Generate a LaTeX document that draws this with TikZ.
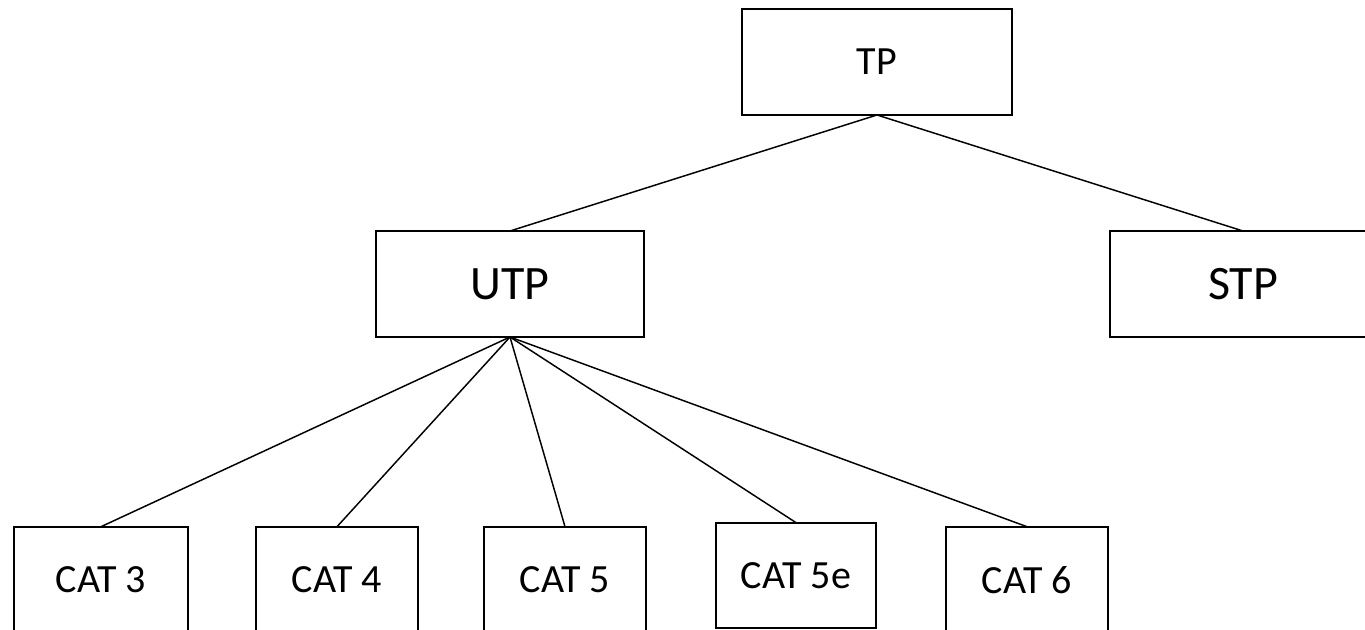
\documentclass[tikz,border=0pt]{standalone}
\usepackage{fontspec}
\setmainfont{Carlito}
\begin{document}
\begin{tikzpicture}[x=0.75pt,y=-0.75pt,
  box/.style={draw=black,line width=1.5pt,rectangle,inner sep=0pt,outer sep=0pt,
    minimum height=79.5pt,font=\fontsize{30}{36}\selectfont},
  bigbox/.style={box,font=\fontsize{36}{43}\selectfont},
  link/.style={draw=black,line width=1.1pt}]
\useasboundingbox (0,0) rectangle (1365,630);
\clip (0,0) rectangle (1365,630);
\fill[white] (0,0) rectangle (1365,630);
% top level
\node[box,minimum width=202.5pt] (tp) at (877,62) {TP};
% second level
\node[bigbox,minimum width=201pt] (utp) at (510,284) {UTP};
\node[bigbox,minimum width=199.5pt] (stp) at (1243,284) {STP};
% cable categories
\node[box,minimum width=130.5pt] (c3) at (101,579.7) {CAT 3};
\node[box,minimum width=121.5pt] (c4) at (337,579.7) {CAT 4};
\node[box,minimum width=121.5pt] (c5) at (565,579.7) {CAT 5};
\node[box,minimum width=120pt,minimum height=79pt] (c5e) at (796,575.3) {CAT 5e};
\node[box,minimum width=121.5pt] (c6) at (1027,579.7) {CAT 6};
% connectors
\draw[link] (tp.south) -- (utp.north);
\draw[link] (tp.south) -- (stp.north);
\foreach \c in {c3,c4,c5,c5e,c6}
  \draw[link] (utp.south) -- (\c.north);
\end{tikzpicture}
\end{document}
